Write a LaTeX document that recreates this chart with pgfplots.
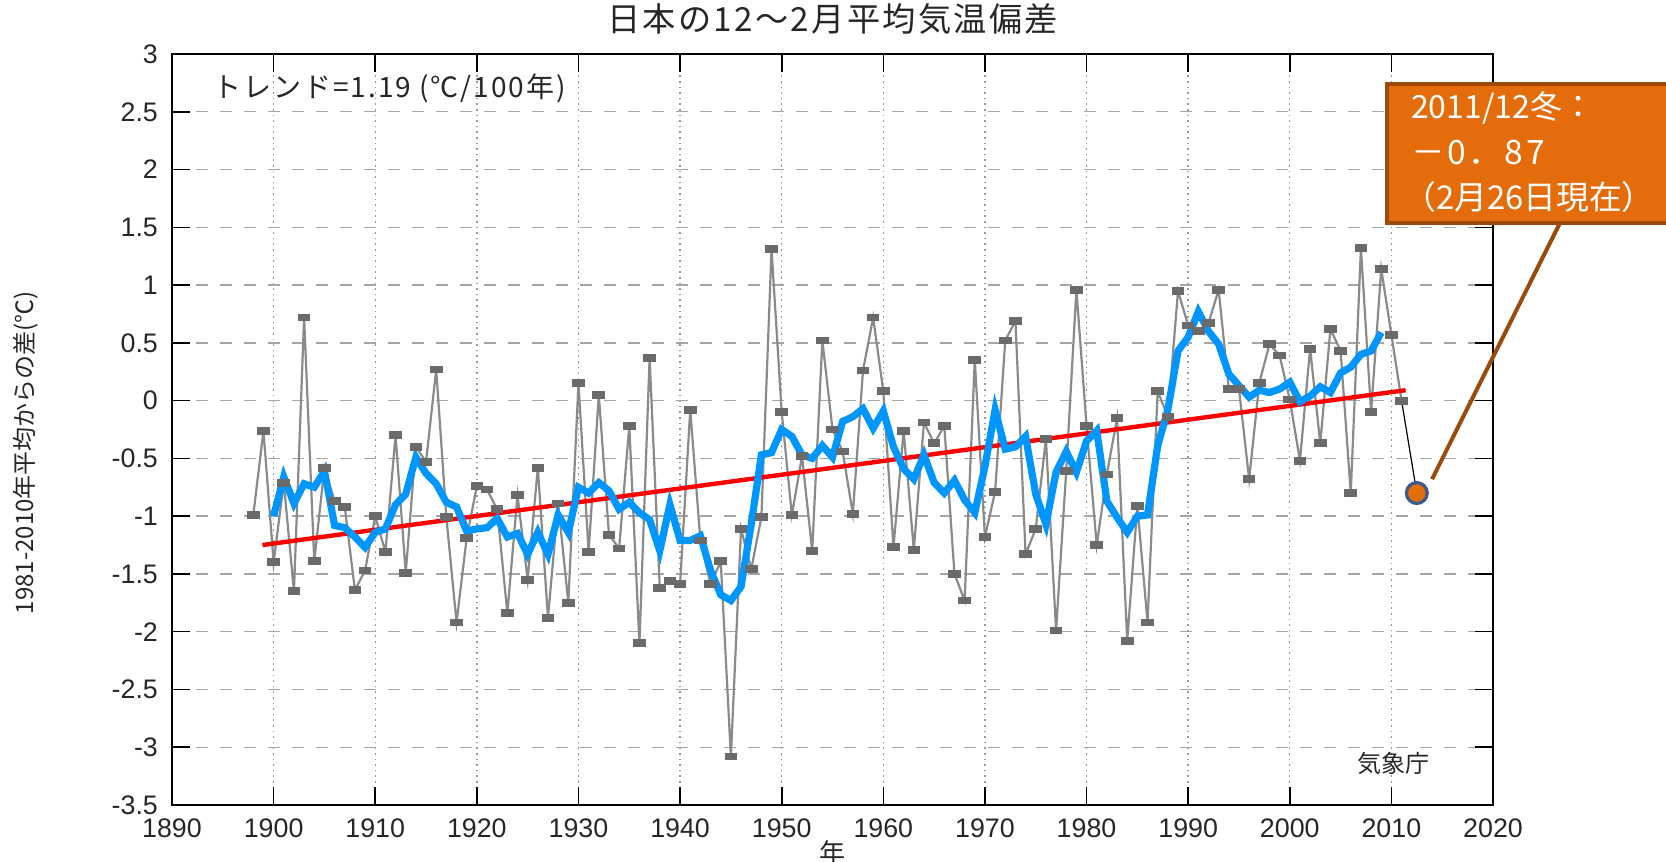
\documentclass[border=0pt]{standalone}
\usepackage{pgfplots}
\pgfplotsset{compat=1.18}
\usepackage{pgfplotstable}
\usepackage{fontspec}
\setmainfont{Liberation Sans}
\newfontfamily\jp{Noto Sans CJK JP}
\definecolor{obsgray}{HTML}{8A8A8A}
\definecolor{markgray}{HTML}{6A6A6A}
\definecolor{runblue}{HTML}{0096FF}
\definecolor{callout}{HTML}{E46C0A}
\definecolor{calloutedge}{HTML}{9C4A0C}
\definecolor{dotedge}{HTML}{3C5A8A}

% winter (Dec-Feb) anomaly, Japan
\pgfplotstableread{
year val
1898 -0.99
1899 -0.26
1900 -1.40
1901 -0.71
1902 -1.65
1903 0.72
1904 -1.39
1905 -0.58
1906 -0.87
1907 -0.92
1908 -1.64
1909 -1.47
1910 -1.00
1911 -1.31
1912 -0.30
1913 -1.49
1914 -0.40
1915 -0.53
1916 0.27
1917 -1.01
1918 -1.92
1919 -1.19
1920 -0.74
1921 -0.77
1922 -0.94
1923 -1.84
1924 -0.82
1925 -1.55
1926 -0.58
1927 -1.88
1928 -0.89
1929 -1.75
1930 0.15
1931 -1.31
1932 0.05
1933 -1.16
1934 -1.28
1935 -0.22
1936 -2.10
1937 0.37
1938 -1.62
1939 -1.56
1940 -1.59
1941 -0.08
1942 -1.21
1943 -1.59
1944 -1.39
1945 -3.08
1946 -1.11
1947 -1.46
1948 -1.01
1949 1.31
1950 -0.10
1951 -0.99
1952 -0.48
1953 -1.30
1954 0.52
1955 -0.25
1956 -0.44
1957 -0.98
1958 0.26
1959 0.72
1960 0.08
1961 -1.27
1962 -0.26
1963 -1.29
1964 -0.19
1965 -0.37
1966 -0.22
1967 -1.50
1968 -1.73
1969 0.35
1970 -1.18
1971 -0.79
1972 0.52
1973 0.69
1974 -1.33
1975 -1.11
1976 -0.33
1977 -1.99
1978 -0.61
1979 0.96
1980 -0.22
1981 -1.25
1982 -0.64
1983 -0.15
1984 -2.08
1985 -0.91
1986 -1.92
1987 0.08
1988 -0.14
1989 0.95
1990 0.65
1991 0.60
1992 0.67
1993 0.96
1994 0.10
1995 0.10
1996 -0.68
1997 0.15
1998 0.49
1999 0.39
2000 0.01
2001 -0.52
2002 0.45
2003 -0.37
2004 0.62
2005 0.43
2006 -0.80
2007 1.32
2008 -0.10
2009 1.14
2010 0.57
2011 0.00
}\obs

% 5-year running mean (blue)
\pgfplotstableread{
year val
1900 -1.00
1901 -0.66
1902 -0.89
1903 -0.72
1904 -0.75
1905 -0.61
1906 -1.08
1907 -1.10
1908 -1.18
1909 -1.27
1910 -1.14
1911 -1.11
1912 -0.90
1913 -0.81
1914 -0.49
1915 -0.63
1916 -0.72
1917 -0.88
1918 -0.92
1919 -1.13
1920 -1.11
1921 -1.10
1922 -1.02
1923 -1.18
1924 -1.15
1925 -1.33
1926 -1.14
1927 -1.33
1928 -0.99
1929 -1.14
1930 -0.75
1931 -0.80
1932 -0.71
1933 -0.78
1934 -0.94
1935 -0.88
1936 -0.97
1937 -1.03
1938 -1.30
1939 -0.90
1940 -1.21
1941 -1.21
1942 -1.17
1943 -1.47
1944 -1.68
1945 -1.73
1946 -1.61
1947 -1.07
1948 -0.47
1949 -0.45
1950 -0.25
1951 -0.31
1952 -0.47
1953 -0.50
1954 -0.39
1955 -0.49
1956 -0.18
1957 -0.14
1958 -0.07
1959 -0.24
1960 -0.09
1961 -0.40
1962 -0.59
1963 -0.68
1964 -0.47
1965 -0.71
1966 -0.80
1967 -0.69
1968 -0.86
1969 -0.97
1970 -0.57
1971 -0.08
1972 -0.42
1973 -0.40
1974 -0.31
1975 -0.81
1976 -1.07
1977 -0.62
1978 -0.44
1979 -0.62
1980 -0.35
1981 -0.26
1982 -0.87
1983 -1.01
1984 -1.14
1985 -1.00
1986 -0.99
1987 -0.39
1988 -0.08
1989 0.43
1990 0.55
1991 0.77
1992 0.60
1993 0.49
1994 0.23
1995 0.13
1996 0.03
1997 0.09
1998 0.07
1999 0.10
2000 0.16
2001 -0.01
2002 0.04
2003 0.12
2004 0.07
2005 0.24
2006 0.29
2007 0.40
2008 0.43
2009 0.59
}\runmean

\begin{document}
\begin{tikzpicture}
\begin{axis}[
  scale only axis, width=330.25pt, height=187.75pt,
  at={(0,0)}, anchor=south west,
  xmin=1890, xmax=2020, ymin=-3.5, ymax=3,
  xtick={1890,1900,1910,1920,1930,1940,1950,1960,1970,1980,1990,2000,2010,2020},
  ytick={-3.5,-3,-2.5,-2,-1.5,-1,-0.5,0,0.5,1,1.5,2,2.5,3},
  tick align=inside, major tick length=4.5pt,
  tick style={black, line width=0.4pt},
  axis line style={black, line width=0.5pt},
  xmajorgrids, ymajorgrids,
  x grid style={densely dotted, gray!80, line width=0.35pt},
  y grid style={dashed, gray!70, line width=0.35pt},
  /pgf/number format/assume math mode=true,
  /pgf/number format/1000 sep={},
  ticklabel style={font=\fontsize{6.7}{7}\selectfont, text=black!85},
  clip=false,
]
% observed
\addplot[obsgray, line width=0.55pt, mark=square*, mark size=1pt,
  mark options={fill=markgray, draw=markgray, xscale=1.3, yscale=0.7}]
  table[x=year, y=val] {\obs};
% trend
\addplot[red, line width=1.1pt] coordinates {(1898.9,-1.25) (2011.4,0.09)};
% running mean
\addplot[runblue, line width=1.8pt] table[x=year, y=val] {\runmean};
% 2011/12 preliminary
\addplot[black, line width=0.3pt] coordinates {(2011,0.00) (2012.5,-0.80)};
\addplot[only marks, mark=*, mark size=2.6pt,
  mark options={fill=callout, draw=dotedge, line width=0.8pt}]
  coordinates {(2012.5,-0.80)};

% texts
\node[anchor=west, inner sep=0pt, font=\jp\fontsize{7}{8}\selectfont\addfontfeatures{LetterSpace=7}, text=black!85]
  at (axis cs:1894.0,2.70) {トレンド=1.19 (℃/100年)};
\node[font=\jp\fontsize{6}{7}\selectfont, text=black!85]
  at (axis cs:2010.2,-3.14) {気象庁};
\node[font=\jp\fontsize{8.3}{9}\selectfont\addfontfeatures{LetterSpace=7}, text=black!85]
  at ([yshift=8.8pt]rel axis cs:0.5,1) {日本の12～2月平均気温偏差};
\node[font=\jp\fontsize{6.5}{7}\selectfont, text=black!85]
  at ([yshift=-12pt]rel axis cs:0.5,0) {年};
\node[font=\jp\fontsize{6}{7}\selectfont, text=black!85, rotate=90]
  at ([xshift=-36.5pt, yshift=-5.75pt]rel axis cs:0,0.5) {1981-2010年平均からの差(℃)};

% callout
\draw[calloutedge, line width=1pt, fill=callout]
  (axis cs:2009.6,1.54) rectangle (axis cs:2045,2.74);
\node[anchor=west, inner sep=0pt, text=white, font=\jp\fontsize{8}{9}\selectfont]
  at (axis cs:2011.85,2.53) {2011/12冬：};
\node[anchor=west, inner sep=0pt, text=white, font=\jp\fontsize{8.4}{9}\selectfont\addfontfeatures{LetterSpace=8}]
  at (axis cs:2011.85,2.15) {－0．87};
\node[anchor=west, inner sep=0pt, text=white, font=\jp\fontsize{8.2}{9}\selectfont]
  at (axis cs:2011.1,1.76) {（2月26日現在）};
\draw[calloutedge, line width=1pt] (axis cs:2026.6,1.54) -- (axis cs:2014.0,-0.68);
\end{axis}
\pgfresetboundingbox
\path[use as bounding box] (-43pt,-14.25pt) rectangle (373.5pt,201.25pt);
\end{tikzpicture}
\end{document}
